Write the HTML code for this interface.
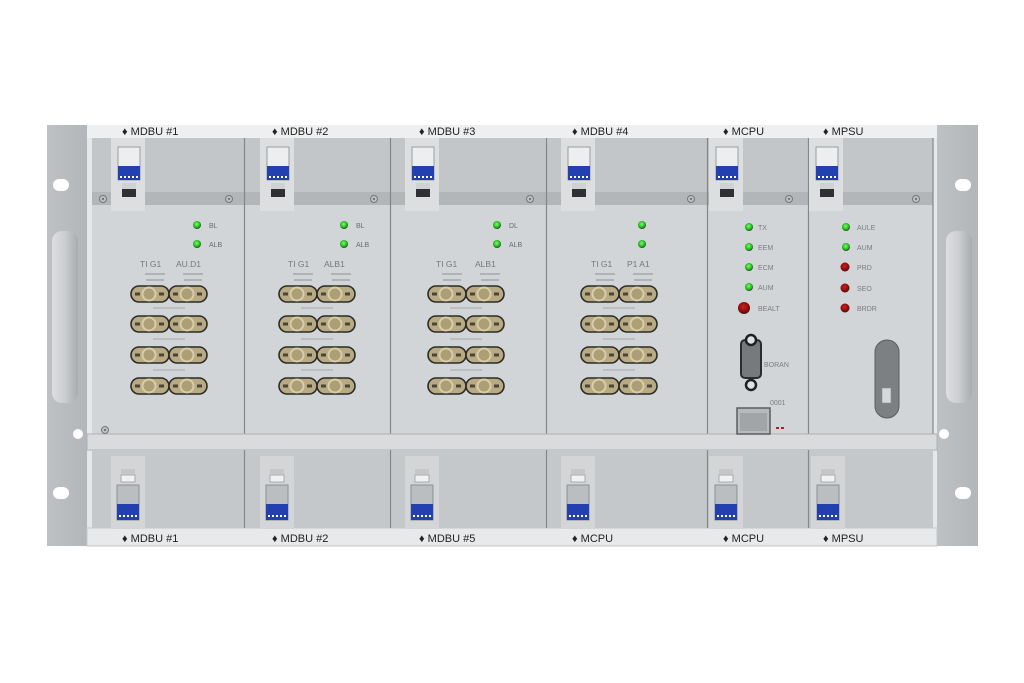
<!DOCTYPE html>
<html><head><meta charset="utf-8"><style>
html,body{margin:0;padding:0;background:#fff;}
svg{display:block;font-family:"Liberation Sans",sans-serif;}
</style></head><body>
<svg width="1024" height="683" viewBox="0 0 1024 683" xmlns="http://www.w3.org/2000/svg">
<defs>
<linearGradient id="ear" x1="0" x2="1"><stop offset="0" stop-color="#bec1c4"/><stop offset="1" stop-color="#b3b6b9"/></linearGradient>
<linearGradient id="hdl" x1="0" x2="1"><stop offset="0" stop-color="#dcdee0"/><stop offset=".5" stop-color="#cbcdd0"/><stop offset="1" stop-color="#a9acaf"/></linearGradient>
<radialGradient id="gl" cx=".45" cy=".4" r=".6"><stop offset="0" stop-color="#7cff6a"/><stop offset=".7" stop-color="#1fb31a"/><stop offset="1" stop-color="#2c3a2c"/></radialGradient>
<radialGradient id="rl" cx=".45" cy=".4" r=".6"><stop offset="0" stop-color="#d02020"/><stop offset=".7" stop-color="#8a0a0a"/><stop offset="1" stop-color="#3a1a1a"/></radialGradient>
<g id="pill">
<rect x="0" y="0" width="38" height="16" rx="8" fill="#b8ab84" stroke="#2b2a26" stroke-width="1.6"/>
<circle cx="18" cy="8" r="6.5" fill="#ad9f75" stroke="#d8cda8" stroke-width="2"/>
<rect x="4" y="6.5" width="5" height="3" fill="#4a4536"/><rect x="28" y="6.5" width="5" height="3" fill="#4a4536"/>
</g>
<g id="conn">
<use href="#pill" x="0" y="0"/><use href="#pill" x="38" y="0"/>
<use href="#pill" x="0" y="30"/><use href="#pill" x="38" y="30"/>
<use href="#pill" x="0" y="61"/><use href="#pill" x="38" y="61"/>
<use href="#pill" x="0" y="92"/><use href="#pill" x="38" y="92"/>
<rect x="22" y="21" width="32" height="2" fill="#bcbfc2"/><rect x="22" y="52" width="32" height="2" fill="#bcbfc2"/><rect x="22" y="83" width="32" height="2" fill="#bcbfc2"/>
<rect x="14" y="-13" width="20" height="2" fill="#b0b3b6"/><rect x="15" y="-7" width="18" height="2" fill="#b0b3b6"/>
<rect x="52" y="-13" width="20" height="2" fill="#b0b3b6"/><rect x="53" y="-7" width="18" height="2" fill="#b0b3b6"/>
</g>
<g id="latchT">
<rect x="0" y="0" width="34" height="73" fill="#dcdee0"/>
<rect x="7" y="9" width="22" height="33" fill="#eceef0" stroke="#9a9da0" stroke-width="1"/>
<rect x="7" y="28" width="22" height="14" fill="#2240b0"/>
<g fill="#fff"><rect x="9" y="38" width="2" height="2"/><rect x="13" y="38" width="2" height="2"/><rect x="17" y="38" width="2" height="2"/><rect x="21" y="38" width="2" height="2"/><rect x="25" y="38" width="2" height="2"/></g>
<rect x="11" y="45" width="14" height="6" fill="#cfd1d3"/><rect x="11" y="51" width="14" height="8" fill="#2e3033"/>
</g>
<g id="latchB">
<rect x="0" y="0" width="34" height="73" fill="#d3d5d7"/>
<rect x="10" y="13" width="14" height="5" fill="#c4c6c8"/><rect x="10" y="19" width="14" height="7" fill="#f0f1f2" stroke="#9a9da0" stroke-width=".8"/>
<rect x="6" y="29" width="22" height="35" fill="#bbbec1" stroke="#8d9093" stroke-width="1"/>
<rect x="6" y="48" width="22" height="16" fill="#2240b0"/>
<g fill="#fff"><rect x="8" y="59" width="2" height="2"/><rect x="12" y="59" width="2" height="2"/><rect x="16" y="59" width="2" height="2"/><rect x="20" y="59" width="2" height="2"/><rect x="24" y="59" width="2" height="2"/></g>
</g>
<g id="screw"><circle r="3.5" fill="#c0c3c6" stroke="#74777a" stroke-width="1"/><circle r="1.2" fill="#74777a"/></g>
</defs>

<rect x="47" y="125" width="40" height="421" fill="url(#ear)"/>
<rect x="937" y="125" width="41" height="421" fill="url(#ear)"/>
<rect x="53" y="179" width="16" height="12" rx="6" fill="#fff"/>
<rect x="53" y="487" width="16" height="12" rx="6" fill="#fff"/>
<rect x="955" y="179" width="16" height="12" rx="6" fill="#fff"/>
<rect x="955" y="487" width="16" height="12" rx="6" fill="#fff"/>
<rect x="52" y="231" width="26" height="172" rx="10" fill="url(#hdl)"/>
<rect x="946" y="231" width="26" height="172" rx="10" fill="url(#hdl)"/>

<rect x="87" y="125" width="850" height="421" fill="#e6e7e8"/>
<rect x="87" y="125" width="850" height="13" fill="#eeeff0"/>
<rect x="87" y="528" width="850" height="18" fill="#e8e9ea" stroke="#c4c6c8" stroke-width="1"/>
<rect x="92" y="138" width="841" height="55" fill="#c3c6c9"/>
<rect x="92" y="192" width="841" height="13" fill="#b3b6b9"/>
<rect x="92" y="205" width="841" height="229" fill="#d2d5d8"/>
<g stroke="#84878a" stroke-width="1.2">
<line x1="244.5" y1="138" x2="244.5" y2="434"/><line x1="390.5" y1="138" x2="390.5" y2="434"/>
<line x1="546.5" y1="138" x2="546.5" y2="434"/><line x1="707.5" y1="138" x2="707.5" y2="434"/>
<line x1="808.5" y1="138" x2="808.5" y2="434"/><line x1="933" y1="138" x2="933" y2="434"/>
</g>
<rect x="87" y="434" width="850" height="16" fill="#d9dbdd" stroke="#aeb1b4" stroke-width="1"/>
<circle cx="78" cy="434" r="5" fill="#fff"/><circle cx="944" cy="434" r="5" fill="#fff"/>
<rect x="92" y="450" width="841" height="78" fill="#c5c8cb"/>
<g stroke="#84878a" stroke-width="1.2">
<line x1="244.5" y1="450" x2="244.5" y2="528"/><line x1="390.5" y1="450" x2="390.5" y2="528"/>
<line x1="546.5" y1="450" x2="546.5" y2="528"/><line x1="707.5" y1="450" x2="707.5" y2="528"/>
<line x1="808.5" y1="450" x2="808.5" y2="528"/>
</g>

<use href="#screw" x="103" y="199"/><use href="#screw" x="229" y="199"/><use href="#screw" x="374" y="199"/>
<use href="#screw" x="530" y="199"/><use href="#screw" x="691" y="199"/><use href="#screw" x="789" y="199"/><use href="#screw" x="916" y="199"/>
<use href="#screw" x="105" y="430"/>

<use href="#latchT" x="111" y="138"/><use href="#latchT" x="260" y="138"/><use href="#latchT" x="405" y="138"/>
<use href="#latchT" x="561" y="138"/><use href="#latchT" x="709" y="138"/><use href="#latchT" x="809" y="138"/>
<use href="#latchB" x="111" y="456"/><use href="#latchB" x="260" y="456"/><use href="#latchB" x="405" y="456"/>
<use href="#latchB" x="561" y="456"/><use href="#latchB" x="709" y="456"/><use href="#latchB" x="811" y="456"/>

<g font-size="11" fill="#222">
<text x="122" y="135">♦ MDBU #1</text><text x="272" y="135">♦ MDBU #2</text><text x="419" y="135">♦ MDBU #3</text>
<text x="572" y="135">♦ MDBU #4</text><text x="723" y="135">♦ MCPU</text><text x="823" y="135">♦ MPSU</text>
<text x="122" y="542">♦ MDBU #1</text><text x="272" y="542">♦ MDBU #2</text><text x="419" y="542">♦ MDBU #5</text>
<text x="572" y="542">♦ MCPU</text><text x="723" y="542">♦ MCPU</text><text x="823" y="542">♦ MPSU</text>
</g>

<circle cx="197" cy="225" r="4" fill="url(#gl)"/><circle cx="197" cy="244" r="4" fill="url(#gl)"/>
<circle cx="344" cy="225" r="4" fill="url(#gl)"/><circle cx="344" cy="244" r="4" fill="url(#gl)"/>
<circle cx="497" cy="225" r="4" fill="url(#gl)"/><circle cx="497" cy="244" r="4" fill="url(#gl)"/>
<circle cx="642" cy="225" r="4" fill="url(#gl)"/><circle cx="642" cy="244" r="4" fill="url(#gl)"/>
<g font-size="7" fill="#6a6d70">
<text x="209" y="228">BL</text><text x="209" y="247">ALB</text>
<text x="356" y="228">BL</text><text x="356" y="247">ALB</text>
<text x="509" y="228">DL</text><text x="509" y="247">ALB</text>
</g>
<g font-size="8.5" fill="#75787b">
<text x="140" y="267">TI  G1</text><text x="176" y="267">AU.D1</text>
<text x="288" y="267">TI  G1</text><text x="324" y="267">ALB1</text>
<text x="436" y="267">TI  G1</text><text x="475" y="267">ALB1</text>
<text x="591" y="267">TI  G1</text><text x="627" y="267">P1  A1</text>
</g>
<use href="#conn" x="131" y="286"/><use href="#conn" x="279" y="286"/>
<use href="#conn" x="428" y="286"/><use href="#conn" x="581" y="286"/>

<circle cx="749" cy="227" r="4" fill="url(#gl)"/><circle cx="749" cy="247" r="4" fill="url(#gl)"/>
<circle cx="749" cy="267" r="4" fill="url(#gl)"/><circle cx="749" cy="287" r="4" fill="url(#gl)"/>
<circle cx="744" cy="308" r="6" fill="url(#rl)"/>
<g font-size="7" fill="#7a7d80"><text x="758" y="230">TX</text><text x="758" y="250">EEM</text><text x="758" y="270">ECM</text><text x="758" y="290">AUM</text><text x="758" y="311">BEALT</text>
<text x="764" y="367">BORAN</text><text x="770" y="405">0001</text></g>
<rect x="741" y="340" width="20" height="38" rx="4" fill="#777a7d" stroke="#2a2c2e" stroke-width="2"/>
<circle cx="751" cy="340" r="5" fill="#e0e2e4" stroke="#1e2022" stroke-width="2.5"/>
<circle cx="751" cy="385" r="5" fill="#e0e2e4" stroke="#1e2022" stroke-width="2.5"/>
<rect x="737" y="408" width="33" height="26" fill="#b7babd" stroke="#5a5d60" stroke-width="1.5"/>
<rect x="740" y="413" width="27" height="18" fill="#a2a5a8"/>
<rect x="776" y="427" width="3" height="2" fill="#b02020"/><rect x="781" y="427" width="3" height="2" fill="#b02020"/>

<circle cx="846" cy="227" r="4" fill="url(#gl)"/><circle cx="846" cy="247" r="4" fill="url(#gl)"/>
<circle cx="845" cy="267" r="4.5" fill="url(#rl)"/><circle cx="845" cy="288" r="4.5" fill="url(#rl)"/><circle cx="845" cy="308" r="4.5" fill="url(#rl)"/>
<g font-size="7" fill="#7a7d80"><text x="857" y="230">AULE</text><text x="857" y="250">AUM</text><text x="857" y="270">PRD</text><text x="857" y="291">SEO</text><text x="857" y="311">BRDR</text></g>
<rect x="875" y="340" width="24" height="78" rx="12" fill="#7d8083" stroke="#5a5d60" stroke-width="1"/>
<rect x="882" y="388" width="9" height="15" fill="#d6d8da" stroke="#8a8d90" stroke-width=".6"/>
</svg>
</body></html>
